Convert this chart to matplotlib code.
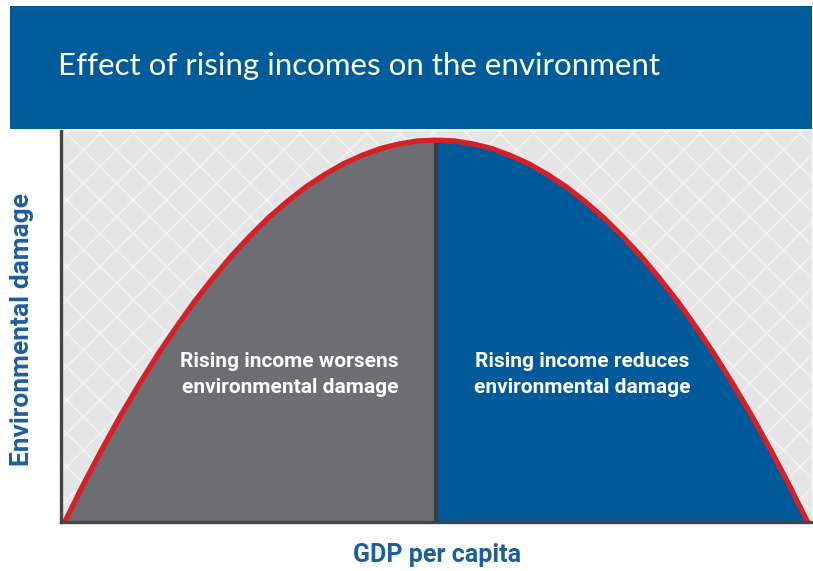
import matplotlib.pyplot as plt
from matplotlib.patches import Rectangle

# Data: GDP per capita (0-100) vs environmental damage (0-100)
gdp = [0, 2.5, 5, 7.5, 10, 12.5, 15, 17.5, 20, 22.5, 25, 27.5, 30, 32.5, 35,
       37.5, 40, 42.5, 45, 47.5, 50, 52.5, 55, 57.5, 60, 62.5, 65, 67.5, 70,
       72.5, 75, 77.5, 80, 82.5, 85, 87.5, 90, 92.5, 95, 97.5, 100]
damage = [0, 9.8, 19, 27.8, 36, 43.8, 51, 57.8, 64, 69.8, 75, 79.8, 84, 87.8,
          91, 93.8, 96, 97.8, 99, 99.8, 100, 99.8, 99, 97.8, 96, 93.8, 91,
          87.8, 84, 79.8, 75, 69.8, 64, 57.8, 51, 43.8, 36, 27.8, 19, 9.8, 0]
turning_point = 50

title = "Effect of rising incomes on the environment"
left_text = "Rising income worsens\nenvironmental damage"
right_text = "Rising income reduces\nenvironmental damage"
x_label = "GDP per capita"
y_label = "Environmental damage"

# Colours
header_blue = "#005b99"
fill_blue = "#005a9a"
fill_grey = "#6d6e71"
curve_red = "#d71f27"
label_blue = "#1d5e9e"
spine_grey = "#444446"

plt.rcParams["hatch.linewidth"] = 1.0

fig = plt.figure(figsize=(8.13, 5.71), dpi=100)

# Header band
fig.patches.append(Rectangle((10 / 813, 1 - 129 / 571), 802 / 813, 123 / 571,
                             transform=fig.transFigure, facecolor=header_blue,
                             edgecolor="none", zorder=0))
fig.text(58 / 813, 1 - 66 / 571, title, color="white", fontsize=22.5,
         family="Lato", va="center", ha="left")

ax = fig.add_axes([61 / 813, 1 - 522 / 571, 751 / 813, 391 / 571])
ax.set_facecolor("#e6e6e6")
ax.add_patch(Rectangle((0, 0), 1, 1, transform=ax.transAxes, facecolor="none",
                       edgecolor="#f3f3f3", linewidth=0, hatch="x", zorder=0))

left = [i for i, g in enumerate(gdp) if g <= turning_point]
right = [i for i, g in enumerate(gdp) if g >= turning_point]
ax.fill_between([gdp[i] for i in left], 0, [damage[i] for i in left],
                color=fill_grey, linewidth=0, zorder=1)
ax.fill_between([gdp[i] for i in right], 0, [damage[i] for i in right],
                color=fill_blue, linewidth=0, zorder=1)
ax.plot([turning_point, turning_point], [0, max(damage)], color="#3b3b3d",
        linewidth=3, zorder=2, solid_capstyle="butt")
ax.plot(gdp, damage, color=curve_red, linewidth=3.8, zorder=3,
        solid_joinstyle="round", solid_capstyle="butt")

ax.text(30.3, 38.6, left_text, color="white", fontsize=15, fontweight="bold",
        family="Roboto", ha="center", va="center", linespacing=1.48, zorder=4)
ax.text(69.7, 38.6, right_text, color="white", fontsize=15, fontweight="bold",
        family="Roboto", ha="center", va="center", linespacing=1.48, zorder=4)

ax.set_xlim(-0.5, 100.6)
ax.set_ylim(0, 102.4)
ax.set_xticks([])
ax.set_yticks([])
for s in ["top", "right"]:
    ax.spines[s].set_visible(False)
for s in ["left", "bottom"]:
    ax.spines[s].set_color(spine_grey)
    ax.spines[s].set_linewidth(2.4)
    ax.spines[s].set_zorder(5)

fig.text(437 / 813, 1 - 555 / 571, x_label, color=label_blue, fontsize=18,
         fontweight="bold", family="Roboto", ha="center", va="center")
fig.text(22 / 813, 1 - 330 / 571, y_label, color=label_blue, fontsize=19,
         fontweight="bold", family="Roboto", ha="center", va="center",
         rotation=90)

fig.savefig("out.png", dpi=100, facecolor="white")
